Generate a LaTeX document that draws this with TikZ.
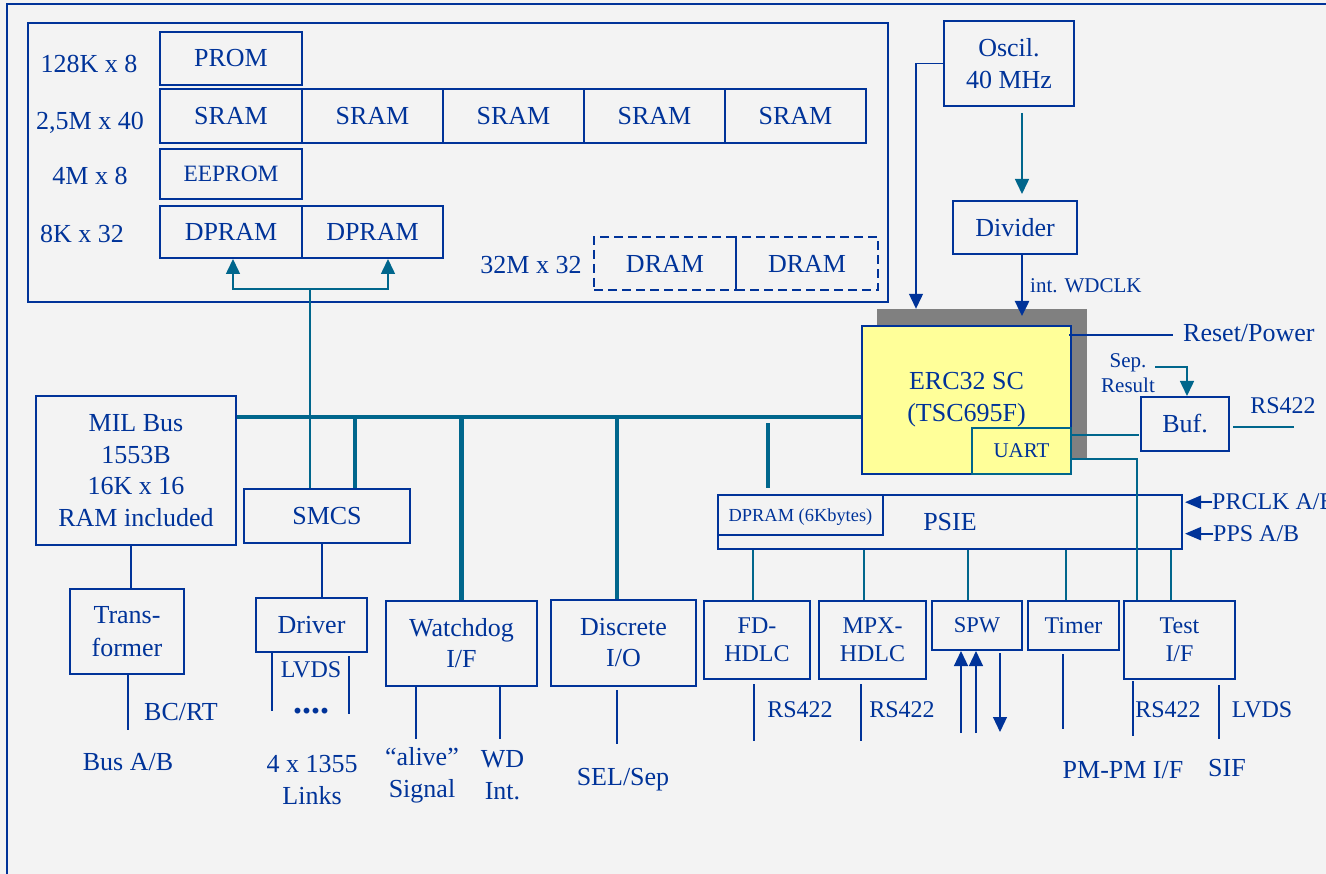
\documentclass[tikz,border=0pt]{standalone}
\usepackage{fontspec}
\setmainfont{Liberation Serif}
\usetikzlibrary{arrows.meta}
\definecolor{tblue}{RGB}{0,51,153}
\definecolor{tteal}{RGB}{0,102,140}
\definecolor{bgc}{RGB}{243,243,243}
\definecolor{shade}{RGB}{128,128,128}
\definecolor{chip}{RGB}{255,255,153}
\newcommand{\fs}[2]{\fontsize{#1}{#2}\selectfont}
\begin{document}
\begin{tikzpicture}[x=1pt,y=-1pt,
  box/.style={draw=tblue, line width=2pt, inner sep=0pt, text=tblue, font=\fs{26}{31.5}, align=center},
  sbox/.style={box, font=\fs{24}{28.5}},
  lbl/.style={text=tblue, inner sep=0pt, font=\fs{26}{32}, align=center},
  slbl/.style={lbl, font=\fs{24}{28}},
  tline/.style={draw=tteal, line width=1.5pt},
  bline/.style={draw=tblue, line width=2pt},
  fline/.style={draw=tblue, line width=1.2pt},
  bus/.style={draw=tteal, line width=4.5pt},
  tri/.style={-{Triangle[width=14pt,length=15pt]}},
  stri/.style={-{Triangle[width=13pt,length=16pt]}}]
\useasboundingbox (0,0) rectangle (1326,874);
\fill[bgc] (0,0) rectangle (1326,874);
% outer frame (open on the right and bottom)
\draw[tblue, line width=2pt] (7,880) -- (7,4) -- (1330,4);

% ---------- memory block ----------
\node[draw=tblue, line width=2pt, inner sep=0pt, minimum width=860pt, minimum height=279pt] (memframe) at (458,162.5) {};
\node[lbl, anchor=base] (l128) at (89,73) {128K x 8};
\node[lbl, anchor=base] (l25) at (90,130) {2,5M x 40};
\node[lbl, anchor=base] (l4m) at (90,185) {4M x 8};
\node[lbl, anchor=base] (l8k) at (82,243) {8K x 32};
\node[lbl, anchor=base] (l32m) at (531,274) {32M x 32};
\node[box, minimum width=142pt, minimum height=53pt] (prom) at (231,58.5) {PROM};
\node[box, minimum width=142pt, minimum height=54pt] (sram1) at (231,116) {SRAM};
\node[box, minimum width=141pt, minimum height=54pt] (sram2) at (372.5,116) {SRAM};
\node[box, minimum width=141pt, minimum height=54pt] (sram3) at (513.5,116) {SRAM};
\node[box, minimum width=141pt, minimum height=54pt] (sram4) at (654.5,116) {SRAM};
\node[box, minimum width=141pt, minimum height=54pt] (sram5) at (795.5,116) {SRAM};
\node[box, font=\fs{23.4}{28}, minimum width=142pt, minimum height=50pt] (eeprom) at (231,174) {EEPROM};
\node[box, minimum width=142pt, minimum height=52pt] (dpram1) at (231,232) {DPRAM};
\node[box, minimum width=141pt, minimum height=52pt] (dpram2) at (372.5,232) {DPRAM};
\node[box, dashed, dash pattern=on 9pt off 5pt, minimum width=142pt, minimum height=53pt] (dram1) at (665,263.5) {DRAM};
\node[box, dashed, dash pattern=on 9pt off 5pt, minimum width=142pt, minimum height=53pt] (dram2) at (807,263.5) {DRAM};

% ---------- clock and processor ----------
\node[box, minimum width=130pt, minimum height=85pt] (osc) at (1009,63.5) {Oscil.\\40 MHz};
\node[box, minimum width=124pt, minimum height=53pt] (divider) at (1015,227.5) {Divider};
\node[fill=shade, inner sep=0pt, minimum width=210pt, minimum height=149pt] (shadow) at (982,383.5) {};
\node[box, fill=chip, minimum width=209pt, minimum height=148pt, font=\fs{26}{32}] (erc) at (966.5,400) {ERC32 SC\\(TSC695F)};
\node[box, draw=tteal, fill=chip, font=\fs{21}{25}, minimum width=99pt, minimum height=46pt] (uart) at (1021.5,451) {UART};
\node[box, minimum width=88pt, minimum height=54pt] (buf) at (1185,424) {Buf.};
\node[lbl, anchor=base west, font=\fs{21}{25}] (wdclk) at (1030,292.5) {int. WDCLK};
\node[lbl, anchor=base west] (reset) at (1183,342) {Reset/Power};
\node[lbl, font=\fs{21}{25}] (sep) at (1128,373) {Sep.\\Result};
\node[slbl, anchor=base] (rsbuf) at (1283,414) {RS422};

% ---------- bus devices ----------
\node[box, minimum width=200pt, minimum height=149pt] (milbus) at (136,470.5) {MIL Bus\\1553B\\16K x 16\\RAM included};
\node[box, minimum width=166pt, minimum height=54pt] (smcs) at (327,516) {SMCS};
\node[box, minimum width=114pt, minimum height=85pt, font=\fs{26}{32.5}] (trans) at (127,631.5) {Trans-\\former};
\node[box, minimum width=111pt, minimum height=54pt] (driver) at (311.5,625) {Driver};
\node[box, minimum width=151pt, minimum height=85pt, font=\fs{26}{31}] (watchdog) at (461.5,643.5) {Watchdog\\I/F};
\node[box, minimum width=145pt, minimum height=86pt, font=\fs{26}{31}] (discrete) at (623.5,643) {Discrete\\I/O};
\node[box, minimum width=464pt, minimum height=54pt] (psie) at (950,522) {PSIE};
\node[box, font=\fs{18.4}{22}, text depth=0pt, minimum width=165pt, minimum height=40pt] (dp6k) at (800.5,515) {DPRAM (6Kbytes)};
\node[sbox, minimum width=106pt, minimum height=78pt] (fd) at (757,640) {FD-\\HDLC};
\node[sbox, minimum width=107pt, minimum height=78pt] (mpx) at (872.5,640) {MPX-\\HDLC};
\node[sbox, font=\fs{22.5}{27}, minimum width=90pt, minimum height=49pt] (spw) at (977,625.5) {SPW};
\node[sbox, minimum width=91pt, minimum height=49pt] (timer) at (1073.5,625.5) {Timer};
\node[sbox, minimum width=111pt, minimum height=78pt] (test) at (1179.5,640) {Test\\I/F};
\node[slbl, anchor=base west] (prclk) at (1212,510) {PRCLK A/B};
\node[slbl, anchor=base west] (pps) at (1213,541.5) {PPS A/B};

% ---------- free labels ----------
\node[lbl, anchor=base] (bcrt) at (181,720) {BC/RT};
\node[lbl, anchor=base] (busab) at (128,770) {Bus A/B};
\node[slbl, anchor=base] (lvdsd) at (311,677) {LVDS};
\node[lbl, anchor=base, font=\fs{36}{36}\bfseries] (dots) at (311,713) {....};
\node[lbl] (links) at (312,780) {4 x 1355\\Links};
\node[lbl] (alive) at (422,775) {“alive”\\Signal};
\node[lbl] (wdint) at (502.5,775.4) {WD\\Int.};
\node[lbl, anchor=base] (selsep) at (623,785) {SEL/Sep};
\node[slbl, anchor=base] (rsfd) at (800,717) {RS422};
\node[slbl, anchor=base] (rsmpx) at (902,717) {RS422};
\node[slbl, anchor=base] (rstest) at (1168,717) {RS422};
\node[slbl, anchor=base] (lvdst) at (1262,717) {LVDS};
\node[lbl, anchor=base] (pmpm) at (1123,778) {PM-PM I/F};
\node[lbl, anchor=base] (sif) at (1227,776) {SIF};

% ---------- main bus ----------
\coordinate (busy) at (0,417);
\draw[bus] (milbus.east |- busy) -- (erc.west |- busy);
\path ([xshift=28pt]smcs.north) coordinate (sd);
\draw[bus] (sd) -- (sd |- busy);
\draw[bus] (watchdog.north) -- (watchdog.north |- busy);
\path ([xshift=-6.5pt]discrete.north) coordinate (dd);
\draw[bus] (dd) -- (dd |- busy);
\path ([shift={(-182pt,6pt)}]psie.north) coordinate (pd);
\path ([yshift=-6pt]pd |- busy) coordinate (pdt);
\draw[bus] (pd) -- (pdt);

% ---------- SMCS to DPRAMs ----------
\path ([xshift=-17pt]smcs.north) coordinate (st);
\coordinate (j) at (310,289);
\draw[tline] (st) -- (j);
\draw[tline, tri, tteal] (j) -| ([xshift=2pt]dpram1.south);
\draw[tline, tri, tteal] (j) -| ([xshift=15.5pt]dpram2.south);

% ---------- clock connectors ----------
\path ([xshift=-66pt]shadow.north) coordinate (ot);
\draw[fline, tri, tblue] (osc.west) -| (ot);
\draw[tline, tri, tteal] ([shift={(13pt,-6pt)}]osc.south) -- ([shift={(7pt,6pt)}]divider.north);
\draw[bline, line width=2.5pt, tri, tblue] ([xshift=7pt]divider.south) -- ([shift={(55.5pt,9pt)}]erc.north);

% ---------- processor right side ----------
\path ([shift={(-3pt,-10pt)}]erc.north east) coordinate (rp);
\path ([xshift=-10pt]reset.west) coordinate (rpe);
\draw[bline] (rp) -- (rp -| rpe);
\path ([yshift=6pt]sep.east) coordinate (se);
\draw[tline, tri, tteal] (se) -| ([xshift=2pt]buf.north);
\draw[tline] ([shift={(3pt,-3pt)}]buf.east) -- ++(61,0);
\draw[tline] ([yshift=-8pt]uart.north east) -- ++(67,0);
\draw[tline] ([yshift=-8pt]uart.east) -| ([xshift=-42.5pt]test.north);

% ---------- PSIE ----------
\draw[bline, stri, tblue] (prclk.west) -- ++(-27,0);
\draw[bline, stri, tblue] (pps.west) -- ++(-28,0);
\path ([xshift=-4pt]fd.north) coordinate (p1);
\path ([xshift=-8.5pt]mpx.north) coordinate (p2);
\path ([xshift=-9pt]spw.north) coordinate (p3);
\path ([xshift=-7.5pt]timer.north) coordinate (p4);
\path ([xshift=-8.5pt]test.north) coordinate (p5);
\foreach \p in {p1,p2,p3,p4,p5} \draw[tline] (\p) -- (\p |- psie.south);

% ---------- lower outputs ----------
\draw[bline] ([shift={(-3pt,-4pt)}]fd.south) -- ++(0,57);
\draw[bline] ([shift={(-11.5pt,-4pt)}]mpx.south) -- ++(0,57);
\draw[fline, tri, tblue] ([shift={(-16pt,-82pt)}]spw.south) -- ([xshift=-16pt]spw.south);
\draw[fline, tri, tblue] ([shift={(-1pt,-82pt)}]spw.south) -- ([xshift=-1pt]spw.south);
\draw[fline, tri, tblue] ([shift={(23pt,-2pt)}]spw.south) -- ++(0,79);
\draw[bline] ([shift={(-10.5pt,-3pt)}]timer.south) -- ++(0,75);
\draw[bline] ([shift={(-46.5pt,-1pt)}]test.south) -- ++(0,55);
\draw[bline] ([shift={(39.5pt,-5pt)}]test.south) -- ++(0,54);

% ---------- left side connectors ----------
\draw[bline] ([xshift=-5pt]milbus.south) -- ([xshift=4pt]trans.north);
\draw[bline] ([xshift=1pt]trans.south) -- ++(0,55);
\draw[bline] ([xshift=-5pt]smcs.south) -- ([xshift=10.5pt]driver.north);
\draw[bline] ([xshift=-39.5pt]driver.south) -- ++(0,58);
\draw[bline] ([shift={(37.5pt,-3pt)}]driver.south) -- ++(0,58);
\draw[bline] ([xshift=-45.5pt]watchdog.south) -- ++(0,52);
\draw[bline] ([xshift=38.5pt]watchdog.south) -- ++(0,52);
\draw[bline] ([shift={(-6.5pt,-3pt)}]discrete.south) -- ++(0,54);
\end{tikzpicture}
\end{document}
